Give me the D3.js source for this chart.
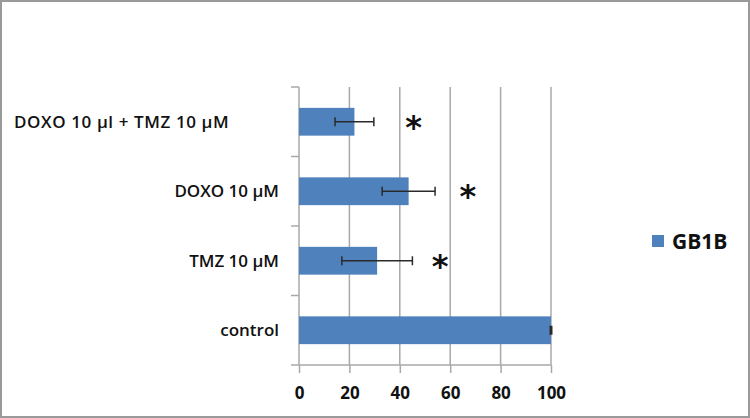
<!DOCTYPE html>
<html>
<head>
<meta charset="utf-8">
<script src="https://cdn.jsdelivr.net/npm/d3@7"></script>
<style>
  body { margin: 0; background: #fff; }
  svg { display: block; }
  text { font-family: "Open Sans", sans-serif; fill: #111; }
</style>
</head>
<body>
<div id="chart"></div>
<script>
// values (% of control)
var categories = ['DOXO 10 \u00b5l + TMZ 10 \u00b5M', 'DOXO 10 \u00b5M', 'TMZ 10 \u00b5M', 'control']
var values = [22, 43.5, 31, 100]
var errors = [7.7, 10.5, 14, 0.3]
var starAt = [45.5, 67, 56, null]   // where the asterisks sit, in axis units
var xTicks = [0, 20, 40, 60, 80, 100]
var seriesName = 'GB1B'

var width = 750
var height = 418
var barColor = '#4f81bd'
var gridColor = '#a8a8a8'

var svg = d3.select('#chart').append('svg')
    .attr('width', width)
    .attr('height', height)

// frame around the whole picture
svg.append('rect')
    .attr('x', 1).attr('y', 1)
    .attr('width', width - 2).attr('height', height - 2)
    .attr('fill', '#fff')
    .attr('stroke', '#9a9a9a')
    .attr('stroke-width', 2)

var x = d3.scaleLinear().domain([0, 100]).range([299, 551])
var y = d3.scaleBand().domain(categories).range([87, 365])
    .paddingInner(0.6).paddingOuter(0.3)

var step = y.step()
var plotTop = y.range()[0], plotBottom = y.range()[1]

// vertical gridlines
svg.append('g').selectAll('line')
    .data(xTicks.slice(1))
    .enter().append('line')
    .attr('x1', d => x(d)).attr('x2', d => x(d))
    .attr('y1', plotTop).attr('y2', plotBottom)
    .attr('stroke', gridColor)
    .attr('stroke-width', 1.5)

// bottom axis
var xAxis = svg.append('g')
    .attr('transform', 'translate(0,' + plotBottom + ')')
    .call(d3.axisBottom(x).tickValues(xTicks).tickSize(8).tickSizeOuter(0).tickFormat(d3.format('d')))
xAxis.select('.domain').remove()
xAxis.selectAll('.tick line').attr('stroke', gridColor).attr('stroke-width', 1.5)
xAxis.selectAll('.tick text')
    .attr('y', 34).attr('dy', 0)
    .style('font-family', '"Open Sans", sans-serif')
    .style('font-size', '17px')
    .style('font-weight', 700)
    .attr('fill', '#111')

svg.append('line')
    .attr('x1', x(0) - 8).attr('x2', x(100))
    .attr('y1', plotBottom).attr('y2', plotBottom)
    .attr('stroke', gridColor).attr('stroke-width', 1.5)

// left axis, ticks sit between the categories
svg.append('line')
    .attr('x1', x(0)).attr('x2', x(0))
    .attr('y1', plotTop).attr('y2', plotBottom)
    .attr('stroke', gridColor).attr('stroke-width', 1.5)

svg.append('g').selectAll('line')
    .data(d3.range(categories.length))
    .enter().append('line')
    .attr('x1', x(0) - 8).attr('x2', x(0))
    .attr('y1', i => plotTop + i * step).attr('y2', i => plotTop + i * step)
    .attr('stroke', gridColor).attr('stroke-width', 1.5)

// bars
svg.append('g').selectAll('rect')
    .data(categories)
    .enter().append('rect')
    .attr('x', x(0))
    .attr('y', d => y(d))
    .attr('width', (d, i) => x(values[i]) - x(0))
    .attr('height', y.bandwidth())
    .attr('fill', barColor)

// error bars
var eb = svg.append('g').selectAll('g')
    .data(categories)
    .enter().append('g')
    .attr('stroke', '#2a2a2a')
    .attr('stroke-width', 1.5)
var cy = d => y(d) + y.bandwidth() / 2
eb.append('line')
    .attr('x1', (d, i) => x(values[i] - errors[i]))
    .attr('x2', (d, i) => x(values[i] + errors[i]))
    .attr('y1', cy).attr('y2', cy)
eb.each(function (d, i) {
    var g = d3.select(this)
    ;[values[i] - errors[i], values[i] + errors[i]].forEach(function (v) {
        g.append('line')
            .attr('x1', x(v)).attr('x2', x(v))
            .attr('y1', cy(d) - 4.5).attr('y2', cy(d) + 4.5)
    })
})

// asterisks
svg.append('g').selectAll('text')
    .data(categories.filter((d, i) => starAt[i] != null))
    .enter().append('text')
    .attr('x', (d, i) => x(starAt[i]))
    .attr('y', d => cy(d) + 16)
    .attr('text-anchor', 'middle')
    .style('font-family', '"DejaVu Sans", sans-serif')
    .style('font-size', '32px')
    .style('font-weight', 700)
    .text('*')

// category labels (the first one sits at the left edge in the original)
svg.append('g').selectAll('text')
    .data(categories)
    .enter().append('text')
    .attr('x', (d, i) => i === 0 ? 14 : 279)
    .attr('y', d => cy(d))
    .attr('dy', '0.36em')
    .attr('text-anchor', (d, i) => i === 0 ? 'start' : 'end')
    .style('font-size', '17px')
    .style('font-weight', 600)
    .style('letter-spacing', (d, i) => i === 0 ? '0.6px' : '0px')
    .text(d => d)

// legend
var legend = svg.append('g').attr('transform', 'translate(652,235)')
legend.append('rect')
    .attr('width', 12).attr('height', 12)
    .attr('fill', barColor)
legend.append('text')
    .attr('x', 20).attr('y', 13.5)
    .style('font-size', '21px')
    .style('font-weight', 700)
    .text(seriesName)
</script>
</body>
</html>
